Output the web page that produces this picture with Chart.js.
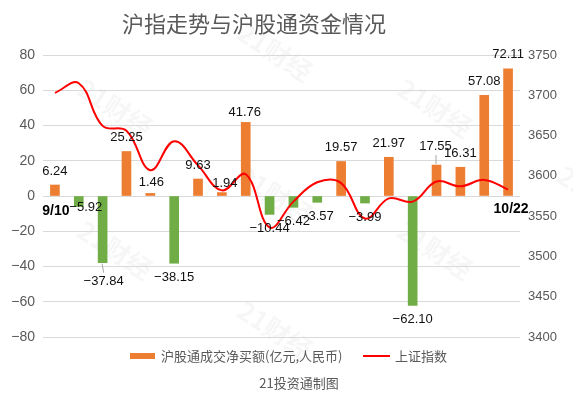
<!DOCTYPE html>
<html>
<head>
<meta charset="utf-8">
<script src="https://cdn.jsdelivr.net/npm/chart.js@4.4.1/dist/chart.umd.min.js"></script>
<style>
body { margin: 0; background: #fff; }
#wrap { position: relative; width: 573px; height: 396px; font-family: "Noto Sans CJK SC", "Liberation Sans", sans-serif; color: #595959; }
#chart { position: absolute; left: 0; top: 0; }
#title { position: absolute; left: 122px; top: 7px; font-size: 22px; line-height: 30px; white-space: nowrap; }
.leg { position: absolute; top: 347px; font-size: 13px; line-height: 18px; white-space: nowrap; }
.swatch { position: absolute; }
#foot { position: absolute; left: 0; width: 598px; top: 374px; text-align: center; font-size: 13px; line-height: 18px; }
</style>
</head>
<body>
<div id="wrap">
  <canvas id="chart" width="573" height="396"></canvas>
  <div id="title">沪指走势与沪股通资金情况</div>
  <div class="swatch" style="left:130px;top:353px;width:25px;height:6px;background:#ED7D31"></div>
  <div class="leg" style="left:161px">沪股通成交净买额(亿元,人民币)</div>
  <div class="swatch" style="left:363px;top:355px;width:27px;height:2px;background:#FF0000"></div>
  <div class="leg" style="left:395px">上证指数</div>
  <div id="foot">21投资通制图</div>
</div>
<script>
// trading days (only first and last are labelled on the chart)
var days = ['9/10', '9/13', '9/14', '9/15', '9/16', '9/23', '9/24', '9/27', '9/28', '9/29',
            '9/30', '10/8', '10/11', '10/12', '10/15', '10/18', '10/19', '10/20', '10/21', '10/22'];
// 沪股通成交净买额 (亿元)
var netBuy = [6.24, -5.92, -37.84, 25.25, 1.46, -38.15, 9.63, 1.94, 41.76, -10.44,
              -6.42, -3.57, 19.57, -3.99, 21.97, -62.10, 17.55, 16.31, 57.08, 72.11];
// 上证指数 close
var sseIndex = [3703, 3715, 3662, 3656, 3607, 3643, 3613, 3582, 3602, 3536,
                3568, 3592, 3591, 3547, 3572, 3568, 3593, 3587, 3595, 3583];
var leftTicks = [-80, 80, 20];
var rightTicks = [3400, 3750, 50];

var numFont = '"Liberation Sans", Arial, sans-serif';

// small hand placement tweaks for a few value labels, like the original
var labelNudge = { 1: [7, -13], 2: [1, 5], 4: [1, 3], 7: [3, 5], 8: [-1, 4], 16: [-1, -5] };

var valueLabels = {
    id: 'valueLabels',
    afterDatasetsDraw: function(chart) {
        var ctx = chart.ctx;
        var meta = chart.getDatasetMeta(0);
        ctx.save();
        ctx.font = '13px ' + numFont;
        ctx.fillStyle = '#111';
        ctx.textAlign = 'center';
        ctx.textBaseline = 'middle';
        meta.data.forEach(function(bar, i) {
            var v = netBuy[i];
            var n = labelNudge[i] || [0, 0];
            var y = v >= 0 ? bar.y - 14 : bar.y + 14;
            var txt = v >= 0 ? v.toFixed(2) : '\u2212' + Math.abs(v).toFixed(2);
            ctx.fillText(txt, bar.x + n[0], y + n[1]);
        });
        // leader lines
        ctx.strokeStyle = '#A6A6A6';
        ctx.lineWidth = 1;
        ctx.beginPath();
        var b2 = meta.data[2], b16 = meta.data[16];
        ctx.moveTo(b2.x - 0.5, b2.y + 1); ctx.lineTo(b2.x + 1, b2.y + 10);
        ctx.moveTo(b16.x - 0.5, b16.y - 1); ctx.lineTo(b16.x - 0.5, b16.y - 10);
        ctx.stroke();
        // first / last date
        var xs = chart.scales.x, ys = chart.scales.y;
        ctx.font = 'bold 14px ' + numFont;
        ctx.fillStyle = '#000';
        ctx.fillText(days[0], xs.getPixelForValue(0) + 1, ys.getPixelForValue(0) + 15);
        ctx.fillText(days[days.length - 1], xs.getPixelForValue(days.length - 1) + 3, ys.getPixelForValue(0) + 13);
        ctx.restore();
    }
};

var watermark = {
    id: 'watermark',
    beforeDraw: function(chart) {
        var ctx = chart.ctx;
        var spots = [[115, 108], [435, 108], [275, 52], [275, 195], [115, 250], [435, 250], [275, 330], [595, 195]];
        ctx.save();
        ctx.font = 'bold 26px "Noto Sans CJK SC", sans-serif';
        ctx.fillStyle = 'rgba(0,0,0,0.035)';
        ctx.textAlign = 'center';
        ctx.textBaseline = 'middle';
        spots.forEach(function(p) {
            ctx.save();
            ctx.translate(p[0], p[1]);
            ctx.rotate(33 * Math.PI / 180);
            ctx.fillText('21财经', 0, 0);
            ctx.restore();
        });
        ctx.restore();
    }
};

var chart = new Chart(document.getElementById('chart'), {
    type: 'bar',
    data: {
        labels: days,
        datasets: [{
            type: 'bar',
            label: '沪股通成交净买额(亿元,人民币)',
            data: netBuy,
            backgroundColor: netBuy.map(function(v) { return v >= 0 ? '#ED7D31' : '#70AD47'; }),
            barThickness: 9,
            yAxisID: 'y',
            order: 2
        }, {
            type: 'line',
            label: '上证指数',
            data: sseIndex,
            borderColor: '#FF0000',
            borderWidth: 2,
            tension: 0.4,
            pointRadius: 0,
            fill: false,
            yAxisID: 'y1',
            order: 1
        }]
    },
    options: {
        responsive: false,
        animation: false,
        layout: { padding: { left: 0, right: 0, top: 55, bottom: 59 } },
        plugins: {
            legend: { display: false },
            tooltip: { enabled: false }
        },
        scales: {
            x: { display: false },
            y: {
                position: 'left',
                min: leftTicks[0], max: leftTicks[1],
                ticks: { stepSize: leftTicks[2], padding: 8, color: '#595959', font: { size: 14, family: numFont },
                         callback: function(v) { return v < 0 ? '\u2212' + Math.abs(v) : String(v); } },
                grid: { color: '#D9D9D9', drawTicks: false },
                border: { display: false },
                afterFit: function(s) { s.width = 43; }
            },
            y1: {
                position: 'right',
                min: rightTicks[0], max: rightTicks[1],
                ticks: { stepSize: rightTicks[2], padding: 8, color: '#595959', font: { size: 13, family: numFont },
                         callback: function(v) { return String(v); } },
                grid: { display: false, drawTicks: false },
                border: { display: false },
                afterFit: function(s) { s.width = 53; }
            }
        }
    },
    plugins: [watermark, valueLabels]
});
</script>
</body>
</html>
